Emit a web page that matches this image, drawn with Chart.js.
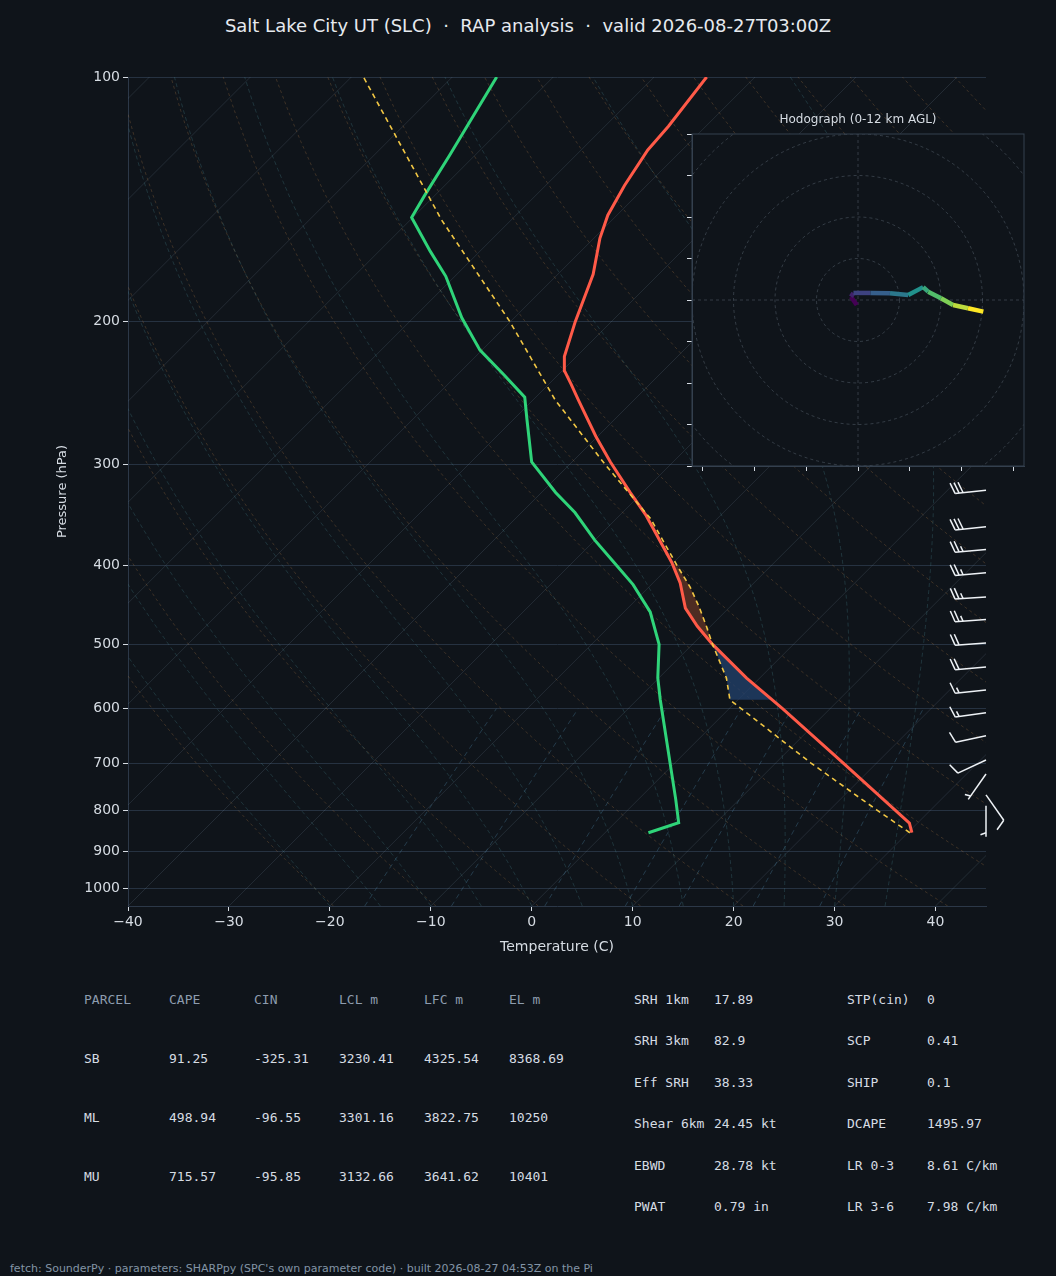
<!DOCTYPE html>
<html>
<head>
<meta charset="utf-8">
<script src="https://cdn.jsdelivr.net/npm/chart.js@4.4.1/dist/chart.umd.min.js"></script>
<style>
  body { margin: 0; background: #0f141a; width: 1056px; height: 1276px; position: relative; overflow: hidden;
         font-family: "DejaVu Sans", sans-serif; color: #d6dce3; }
  #main { position: absolute; left: 0; top: 0; }
  #hodo { position: absolute; left: 680px; top: 110px; }
  .t { position: absolute; white-space: pre; }
  .mono { font-family: "DejaVu Sans Mono", monospace; font-size: 13px; line-height: 16px; color: #d6dce3; }
  .hd { color: #8d9cae; }
</style>
</head>
<body>
<div class="t" style="left:0;width:1056px;text-align:center;top:15px;font-size:18px;color:#e6eaef;">Salt Lake City UT (SLC)  ·  RAP analysis  ·  valid 2026-08-27T03:00Z</div>
<canvas id="main" width="1056" height="960"></canvas>
<div class="t" style="left:692px;width:332px;text-align:center;top:112px;font-size:12px;color:#d6dce3;">Hodograph (0-12 km AGL)</div>
<canvas id="hodo" width="360" height="380"></canvas>
<div id="table"></div>
<div class="t" style="left:10px;top:1262px;font-size:11px;color:#8394a6;">fetch: SounderPy · parameters: SHARPpy (SPC's own parameter code) · built 2026-08-27 04:53Z on the Pi</div>
<script>
// ---- sounding data ----
const tempP = [853, 830, 800, 700, 600, 550, 500, 475, 451, 420, 396, 346, 325, 298, 277, 250, 239, 230, 221, 200, 175, 158, 148, 136, 123, 115, 100];
const tempC = [30.4, 29.2, 26.5, 16.7, 5.3, -1.3, -8.0, -11.3, -14.3, -17.3, -20.2, -27.5, -31.2, -36.2, -40.2, -45.5, -47.8, -49.8, -51.2, -53.6, -56.5, -59.4, -60.9, -62.2, -63.4, -63.7, -64.8];
const dewP = [853, 829, 776, 585, 550, 500, 456, 422, 395, 372, 344, 325, 298, 264, 248, 233, 217, 198, 176, 164, 149, 140, 125, 100];
const dewC = [4.3, 6.3, 3.7, -7.7, -10.1, -13.3, -17.4, -21.8, -26.1, -30.0, -34.7, -38.6, -44.0, -48.7, -51.1, -55.3, -60.2, -65.2, -70.9, -74.9, -80.1, -81.0, -82.5, -85.6];
const parcelP = [853, 800, 700, 585, 550, 500, 475, 450, 425, 400, 350, 300, 250, 200, 150, 100];
const parcelC = [30.2, 24.7, 13.5, -0.8, -3.3, -8.0, -10.4, -13.0, -15.9, -19.3, -26.6, -36.5, -47.8, -60.1, -76.9, -98.8];

const barbP = [323, 358, 382, 408, 437, 466, 498, 533, 569, 607, 648, 694, 722, 766, 790];
const barbDir = [264, 264, 265, 265, 266, 266, 266, 265, 264, 262, 258, 245, 215, 145, 180];
const barbKt = [30, 30, 25, 25, 25, 25, 20, 20, 15, 15, 10, 10, 5, 10, 5];

const hodoU = [-0.3, -1.7, -1.1, 3.0, 7.7, 12.1, 15.7, 16.9, 20.0, 22.9, 26.5, 30.2];
const hodoV = [-1.2, 0.8, 1.7, 1.7, 1.6, 1.2, 3.1, 2.0, 0.4, -1.2, -2.0, -2.8];

const pressureTicks = [100, 200, 300, 400, 500, 600, 700, 800, 900, 1000];

const parcelRows = [
  ['SB', '91.25', '-325.31', '3230.41', '4325.54', '8368.69'],
  ['ML', '498.94', '-96.55', '3301.16', '3822.75', '10250'],
  ['MU', '715.57', '-95.85', '3132.66', '3641.62', '10401']
];
const paramNames1 = ['SRH 1km', 'SRH 3km', 'Eff SRH', 'Shear 6km', 'EBWD', 'PWAT'];
const paramVals1 = ['17.89', '82.9', '38.33', '24.45 kt', '28.78 kt', '0.79 in'];
const paramNames2 = ['STP(cin)', 'SCP', 'SHIP', 'DCAPE', 'LR 0-3', 'LR 3-6'];
const paramVals2 = ['0', '0.41', '0.1', '1495.97', '8.61 C/km', '7.98 C/km'];

// ---- skew-T geometry ----
const P_BOT = 1050, P_TOP = 100;
const PLOT_W = 858, PLOT_H = 829;
const SKEW = (PLOT_H / (PLOT_W / 85)) / Math.log10(P_BOT / P_TOP);
function skew(t, p) { return t + SKEW * Math.log10(P_BOT / p); }
function pts(ps, ts) { return ps.map((p, i) => ({ x: skew(ts[i], p), y: p })); }
function interp(ps, ts, p) {
  for (let i = 0; i < ps.length - 1; i++) {
    if (p <= ps[i] && p >= ps[i + 1]) {
      const f = Math.log(ps[i] / p) / Math.log(ps[i] / ps[i + 1]);
      return ts[i] + f * (ts[i + 1] - ts[i]);
    }
  }
  return ts[ts.length - 1];
}

function es(tc) { return 6.112 * Math.exp(17.67 * tc / (tc + 243.5)); }
function moistCurve(t0) {
  const out = [];
  let T = t0 + 273.15, p = P_BOT;
  while (p >= P_TOP) {
    out.push([T - 273.15, p]);
    const e = es(T - 273.15), rs = 0.622 * e / (p - e);
    const dTdp = (287 * T + 2.5e6 * rs) / (p * (1004 + 2.5e6 * 2.5e6 * rs * 0.622 / (287 * T * T)));
    T -= dTdp * 5; p -= 5;
  }
  return out;
}

const bgLines = {
  id: 'bgLines',
  beforeDatasetsDraw(chart) {
    const { ctx, chartArea: a, scales: { x, y } } = chart;
    ctx.save();
    ctx.beginPath(); ctx.rect(a.left, a.top, a.right - a.left, a.bottom - a.top); ctx.clip();
    const curve = (arr, color, dash) => {
      ctx.strokeStyle = color; ctx.setLineDash(dash); ctx.lineWidth = 1;
      ctx.beginPath();
      arr.forEach(([t, p], i) => {
        const px = x.getPixelForValue(skew(t, p)), py = y.getPixelForValue(p);
        i ? ctx.lineTo(px, py) : ctx.moveTo(px, py);
      });
      ctx.stroke();
    };
    for (let t = -130; t <= 50; t += 10) curve([[t, P_BOT], [t, P_TOP]], 'rgba(130,150,170,0.18)', []);
    for (let th = 250; th <= 480; th += 10) {
      const arr = [];
      for (let p = P_BOT; p >= P_TOP; p -= 10) arr.push([th * Math.pow(p / 1000, 0.286) - 273.15, p]);
      curve(arr, 'rgba(170,120,70,0.3)', [3, 3]);
    }
    for (let t = -20; t <= 35; t += 5) curve(moistCurve(t), 'rgba(70,130,140,0.3)', [4, 3]);
    [1, 2, 4, 7, 10, 16, 24].forEach(w => {
      const arr = [];
      for (let p = P_BOT; p >= 600; p -= 25) {
        const e = p * w / (622 + w), l = Math.log(e / 6.112);
        arr.push([243.5 * l / (17.67 - l), p]);
      }
      curve(arr, 'rgba(70,120,150,0.4)', [5, 4]);
    });
    // CIN / CAPE shading
    const poly = (pList, color) => {
      ctx.fillStyle = color; ctx.setLineDash([]);
      ctx.beginPath();
      pList.forEach((p, i) => {
        const px = x.getPixelForValue(skew(interp(parcelP, parcelC, p), p)), py = y.getPixelForValue(p);
        i ? ctx.lineTo(px, py) : ctx.moveTo(px, py);
      });
      pList.slice().reverse().forEach(p => {
        ctx.lineTo(x.getPixelForValue(skew(interp(tempP, tempC, p), p)), y.getPixelForValue(p));
      });
      ctx.closePath(); ctx.fill();
    };
    poly([585, 570, 550, 530, 515, 500], 'rgba(35,65,110,0.75)');
    poly([500, 475, 450, 425, 410, 398], 'rgba(120,60,40,0.6)');
    ctx.restore();
  }
};

const barbs = {
  id: 'barbs',
  afterDatasetsDraw(chart) {
    const { ctx, chartArea: a, scales: { y } } = chart;
    ctx.save();
    ctx.strokeStyle = '#eef2f6'; ctx.lineWidth = 1.5; ctx.setLineDash([]);
    barbP.forEach((p, i) => {
      const x0 = a.right, y0 = y.getPixelForValue(p);
      const r = barbDir[i] * Math.PI / 180;
      const dx = Math.sin(r), dy = -Math.cos(r);
      const nx = -dy, ny = dx;
      const L = 31;
      ctx.beginPath(); ctx.moveTo(x0, y0); ctx.lineTo(x0 + dx * L, y0 + dy * L); ctx.stroke();
      let spd = barbKt[i], pos = L;
      while (spd >= 10) {
        const bx = x0 + dx * pos, by = y0 + dy * pos;
        ctx.beginPath(); ctx.moveTo(bx, by);
        ctx.lineTo(bx + nx * 11 + dx * 4, by + ny * 11 + dy * 4); ctx.stroke();
        spd -= 10; pos -= 4;
      }
      if (spd >= 5) {
        if (pos === L) pos -= 4;
        const bx = x0 + dx * pos, by = y0 + dy * pos;
        ctx.beginPath(); ctx.moveTo(bx, by);
        ctx.lineTo(bx + nx * 5.5 + dx * 2, by + ny * 5.5 + dy * 2); ctx.stroke();
      }
    });
    ctx.restore();
  }
};

const tickFont = { family: 'DejaVu Sans', size: 14 };
new Chart(document.getElementById('main'), {
  type: 'scatter',
  data: {
    datasets: [
      { data: pts(parcelP, parcelC), showLine: true, borderColor: '#f2c744', borderWidth: 1.6, borderDash: [5, 4], pointRadius: 0 },
      { data: pts(dewP, dewC), showLine: true, borderColor: '#2fd479', borderWidth: 3, pointRadius: 0 },
      { data: pts(tempP, tempC), showLine: true, borderColor: '#ff5a48', borderWidth: 3, pointRadius: 0 }
    ]
  },
  options: {
    responsive: false, animation: false,
    layout: { padding: { left: 55, top: 77, right: 70, bottom: 0 } },
    plugins: { legend: { display: false }, tooltip: { enabled: false } },
    scales: {
      x: {
        type: 'linear', min: -40, max: 45,
        afterFit(s) { s.height = 54; },
        afterBuildTicks(s) { s.ticks = [-40, -30, -20, -10, 0, 10, 20, 30, 40].map(v => ({ value: v })); },
        ticks: { color: '#d6dce3', font: tickFont, callback: v => String(v).replace('-', '\u2212') },
        grid: { display: true, drawOnChartArea: false, color: '#d6dce3', tickLength: 5 },
        border: { color: '#2c3848' },
        title: { display: true, text: 'Temperature (C)', color: '#d6dce3', font: tickFont, padding: { top: 0 } }
      },
      y: {
        type: 'logarithmic', min: P_TOP, max: P_BOT, reverse: true,
        afterFit(s) { s.width = 73; },
        afterBuildTicks(s) { s.ticks = pressureTicks.map(v => ({ value: v })); },
        ticks: { color: '#d6dce3', font: tickFont, callback: v => String(v) },
        grid: { color: '#263241', tickColor: '#d6dce3', tickLength: 5 },
        border: { color: '#2c3848' },
        title: { display: true, text: 'Pressure (hPa)', color: '#d6dce3', font: { family: 'DejaVu Sans', size: 13 }, padding: 0 }
      }
    }
  },
  plugins: [bgLines, barbs]
});

// ---- hodograph ----
const viridis = [[68, 1, 84], [59, 82, 139], [33, 145, 140], [94, 201, 98], [253, 231, 37]];
function vir(f) {
  const s = f * (viridis.length - 1), i = Math.min(Math.floor(s), viridis.length - 2), t = s - i;
  const c = viridis[i].map((v, k) => Math.round(v + t * (viridis[i + 1][k] - v)));
  return `rgb(${c[0]},${c[1]},${c[2]})`;
}
const hodoBg = {
  id: 'hodoBg',
  beforeDraw(chart) {
    const { ctx, chartArea: a, scales: { x, y } } = chart;
    ctx.save();
    ctx.fillStyle = '#0f141a';
    ctx.fillRect(a.left, a.top, a.right - a.left, a.bottom - a.top);
    ctx.beginPath(); ctx.rect(a.left, a.top, a.right - a.left, a.bottom - a.top); ctx.clip();
    ctx.strokeStyle = 'rgba(120,135,150,0.35)'; ctx.setLineDash([3, 3]); ctx.lineWidth = 1;
    const cx = x.getPixelForValue(0), cy = y.getPixelForValue(0);
    for (let r = 10; r <= 60; r += 10) {
      ctx.beginPath(); ctx.arc(cx, cy, x.getPixelForValue(r) - cx, 0, Math.PI * 2); ctx.stroke();
    }
    ctx.beginPath(); ctx.moveTo(a.left, cy); ctx.lineTo(a.right, cy);
    ctx.moveTo(cx, a.top); ctx.lineTo(cx, a.bottom); ctx.stroke();
    ctx.restore();
  }
};
const nH = hodoU.length;
new Chart(document.getElementById('hodo'), {
  type: 'scatter',
  data: {
    datasets: [{
      data: hodoU.map((u, i) => ({ x: u, y: hodoV[i] })), showLine: true, borderWidth: 4.5, pointRadius: 0,
      borderColor: vir(0),
      segment: { borderColor: c => vir(c.p0DataIndex / (nH - 2)) }
    }]
  },
  options: {
    responsive: false, animation: false,
    layout: { padding: { left: 0, top: 24, right: 16, bottom: 0 } },
    plugins: { legend: { display: false }, tooltip: { enabled: false } },
    scales: {
      x: {
        type: 'linear', min: -40, max: 40,
        afterFit(s) { s.height = 24; },
        afterBuildTicks(s) { s.ticks = [-37.5, -25, -12.5, 0, 12.5, 25, 37.5].map(v => ({ value: v })); },
        ticks: { callback: () => '' },
        grid: { drawOnChartArea: false, tickColor: '#d6dce3', tickLength: 5 },
        border: { color: '#34404f' }
      },
      y: {
        type: 'linear', min: -40, max: 40,
        afterFit(s) { s.width = 12; },
        afterBuildTicks(s) { s.ticks = [-40, -30, -20, -10, 0, 10, 20, 30, 40].map(v => ({ value: v })); },
        ticks: { callback: () => '' },
        grid: { drawOnChartArea: false, tickColor: '#d6dce3', tickLength: 5 },
        border: { color: '#34404f' }
      }
    }
  },
  plugins: [hodoBg, {
    id: 'frame',
    afterDraw(chart) {
      const { ctx, chartArea: a } = chart;
      ctx.save(); ctx.strokeStyle = '#34404f'; ctx.lineWidth = 1;
      ctx.strokeRect(a.left, a.top, a.right - a.left, a.bottom - a.top); ctx.restore();
    }
  }]
});

// ---- parameter table ----
const tbl = document.getElementById('table');
function cell(x, y, txt, cls) {
  const d = document.createElement('div');
  d.className = 't mono' + (cls ? ' ' + cls : '');
  d.style.left = x + 'px'; d.style.top = (y - 8) + 'px';
  d.textContent = txt; tbl.appendChild(d);
}
const colX = [84, 169, 254, 339, 424, 509];
['PARCEL', 'CAPE', 'CIN', 'LCL m', 'LFC m', 'EL m'].forEach((h, i) => cell(colX[i], 1000, h, 'hd'));
parcelRows.forEach((r, j) => r.forEach((v, i) => cell(colX[i], 1059 + j * 59, v)));
paramNames1.forEach((n, i) => { cell(634, 1000 + i * 41.4, n); cell(714, 1000 + i * 41.4, paramVals1[i]); });
paramNames2.forEach((n, i) => { cell(847, 1000 + i * 41.4, n); cell(927, 1000 + i * 41.4, paramVals2[i]); });
</script>
</body>
</html>
